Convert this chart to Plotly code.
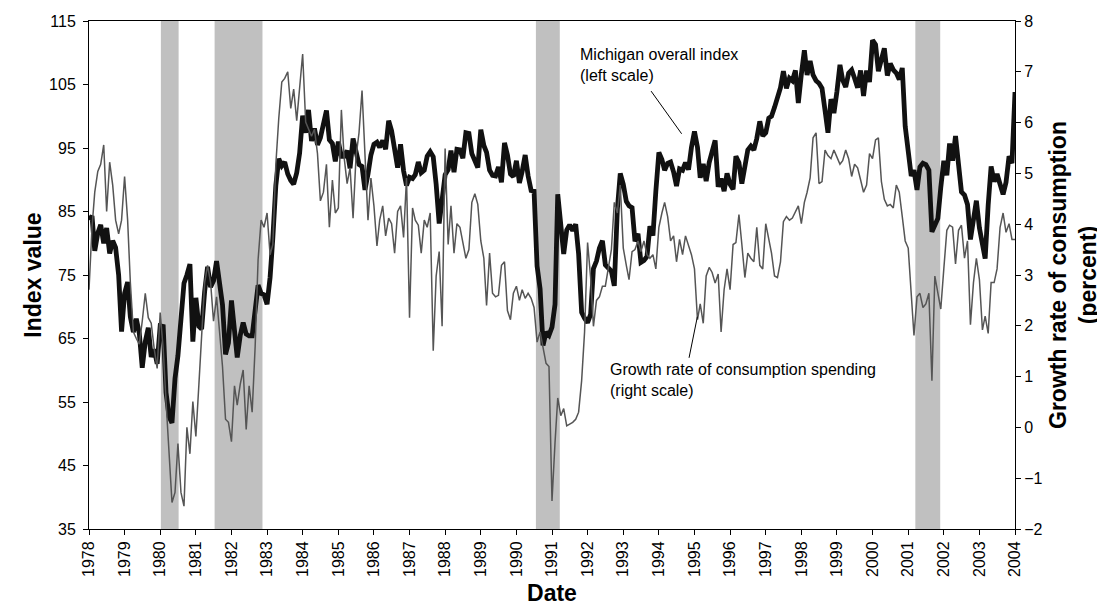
import pandas as pd
import plotly.graph_objects as go

# ---------------- data ----------------
start_month = "1978-01-01"

michigan = [
    # 1978
    83.7, 84.3, 78.8, 81.6, 82.9, 80.0, 82.4, 78.4, 80.4, 79.3, 75.0, 66.1,
    # 1979
    72.1, 73.9, 68.4, 66.0, 68.1, 65.8, 60.4, 64.5, 66.7, 62.1, 63.3, 61.0,
    # 1980
    67.0, 66.9, 56.5, 52.7, 51.7, 58.7, 62.3, 67.3, 73.7, 75.0, 76.7, 64.5,
    # 1981
    71.4, 66.9, 66.5, 72.4, 76.3, 73.1, 74.1, 77.2, 73.1, 70.3, 62.5, 64.3,
    # 1982
    71.0, 66.5, 62.0, 65.5, 67.5, 65.7, 65.4, 65.4, 69.3, 73.4, 72.1, 71.9,
    # 1983
    70.4, 74.6, 80.8, 89.1, 93.3, 92.2, 92.8, 90.9, 89.9, 89.3, 91.1, 94.2,
    # 1984
    100.1, 97.4, 101.0, 96.1, 98.1, 95.5, 96.6, 99.1, 100.9, 96.3, 95.7, 92.9,
    # 1985
    96.0, 93.7, 93.7, 94.6, 91.8, 96.5, 94.0, 92.4, 92.1, 88.4, 90.9, 93.9,
    # 1986
    95.6, 95.9, 95.1, 96.2, 94.8, 99.3, 97.7, 94.9, 91.9, 95.6, 91.4, 89.1,
    # 1987
    90.4, 90.2, 90.8, 92.8, 91.1, 91.5, 93.7, 94.4, 93.6, 89.3, 83.1, 86.8,
    # 1988
    90.8, 91.6, 94.6, 91.2, 94.8, 94.7, 93.4, 97.4, 97.3, 94.1, 93.0, 91.9,
    # 1989
    97.9, 95.4, 94.3, 91.5, 90.7, 90.6, 92.0, 89.6, 95.8, 93.9, 90.9, 90.5,
    # 1990
    93.0, 89.5, 91.3, 93.9, 90.6, 88.3, 88.2, 76.4, 72.8, 63.9, 66.0, 65.5,
    # 1991
    66.8, 70.4, 87.7, 81.8, 78.3, 82.1, 82.9, 82.0, 83.0, 78.3, 69.1, 68.2,
    # 1992
    67.5, 68.8, 76.0, 77.2, 79.2, 80.4, 76.6, 76.1, 75.6, 73.3, 85.3, 91.0,
    # 1993
    89.3, 86.6, 85.9, 85.6, 80.3, 81.5, 77.0, 77.3, 77.9, 82.7, 81.2, 88.2,
    # 1994
    94.3, 93.2, 91.5, 92.6, 92.8, 91.2, 89.0, 91.7, 91.5, 92.7, 91.6, 95.1,
    # 1995
    97.6, 95.1, 90.3, 92.5, 89.8, 92.7, 94.4, 96.2, 88.9, 90.2, 88.2, 91.0,
    # 1996
    89.3, 88.5, 93.7, 92.7, 89.4, 92.4, 94.7, 95.3, 94.7, 96.5, 99.2, 96.9,
    # 1997
    97.4, 99.7, 100.0, 101.4, 103.2, 104.5, 107.1, 104.4, 106.0, 105.6, 107.2, 102.1,
    # 1998
    106.6, 110.4, 106.5, 108.7, 106.5, 105.6, 105.2, 104.4, 100.9, 97.4, 102.7, 100.5,
    # 1999
    103.9, 108.1, 105.7, 104.6, 106.8, 107.3, 106.0, 104.5, 107.2, 103.2, 107.2, 105.4,
    # 2000
    112.0, 111.3, 107.1, 109.2, 110.7, 106.4, 108.3, 107.3, 106.8, 105.8, 107.6, 98.4,
    # 2001
    94.7, 90.6, 91.5, 88.4, 92.0, 92.6, 92.4, 91.5, 81.8, 82.7, 83.9, 88.8,
    # 2002
    93.0, 90.7, 95.7, 93.0, 96.9, 92.4, 88.1, 87.6, 86.1, 80.6, 84.2, 86.7,
    # 2003
    82.4, 79.9, 77.6, 86.0, 92.1, 89.7, 90.9, 89.3, 87.7, 89.6, 93.7, 92.6,
    # 2004
    103.8,
]

consumption_growth = [
    # 1978
    2.71, 3.94, 4.63, 5.04, 5.18, 5.56, 4.25, 5.22, 4.77, 4.08, 3.81, 4.08,
    # 1979
    4.94, 4.08, 2.85, 1.88, 1.75, 1.64, 2.09, 2.64, 2.16, 2.05, 1.54, 1.16,
    # 1980
    2.26, 1.54, 0.51, -0.52, -1.48, -1.28, -0.32, -1.28, -1.55, 0.00, -0.52, 0.51,
    # 1981
    -0.18, 0.85, 1.88, 2.85, 3.19, 2.85, 2.09, 2.57, 1.88, 1.20, 0.16, 0.10,
    # 1982
    -0.28, 0.82, 0.44, 0.85, 1.13, -0.04, 0.82, 0.30, 1.60, 3.30, 4.08, 3.94,
    # 1983
    4.22, 3.40, 3.60, 5.18, 6.08, 6.80, 6.87, 7.00, 6.28, 6.66, 6.04, 6.69,
    # 1984
    7.35, 6.01, 5.87, 5.73, 5.87, 5.39, 4.46, 4.63, 5.18, 3.94, 4.87, 4.22,
    # 1985
    4.32, 6.25, 5.32, 4.80, 5.11, 4.12, 5.32, 5.80, 6.63, 5.46, 4.08, 4.91,
    # 1986
    4.36, 3.57, 4.08, 4.36, 3.77, 4.12, 4.01, 3.43, 4.25, 4.36, 3.74, 4.91,
    # 1987
    2.16, 4.32, 4.08, 3.98, 3.43, 4.08, 3.94, 4.22, 1.51, 2.98, 3.46, 1.99,
    # 1988
    5.49, 3.60, 4.36, 3.43, 4.01, 3.94, 3.67, 3.33, 3.50, 4.43, 4.60, 4.39,
    # 1989
    3.67, 3.33, 2.40, 3.43, 2.64, 2.57, 2.60, 3.19, 3.26, 2.30, 2.12, 2.64,
    # 1990
    2.78, 2.50, 2.71, 2.54, 2.64, 2.54, 2.36, 1.68, 1.88, 1.54, 1.26, 1.20,
    # 1991
    -1.45, -0.30, 0.58, 0.23, 0.37, 0.03, 0.06, 0.10, 0.16, 0.30, 0.92, 1.88,
    # 1992
    3.64, 2.95, 1.99, 2.50, 2.57, 2.78, 2.78, 3.12, 3.50, 4.43, 4.22, 4.77,
    # 1993
    3.53, 3.19, 2.91, 3.46, 3.50, 3.67, 3.46, 3.67, 3.40, 3.33, 3.40, 3.12,
    # 1994
    3.94, 4.22, 4.43, 4.15, 3.67, 3.77, 3.26, 3.70, 3.40, 3.77, 3.60, 3.40,
    # 1995
    3.12, 2.12, 2.43, 2.05, 2.98, 3.15, 3.05, 2.84, 3.02, 1.88, 2.71, 3.12,
    # 1996
    2.71, 3.60, 3.64, 4.19, 3.60, 2.95, 3.43, 3.33, 3.26, 3.94, 3.19, 3.12,
    # 1997
    4.01, 3.70, 3.43, 2.98, 2.95, 3.26, 4.05, 4.15, 4.08, 4.12, 4.25, 4.36,
    # 1998
    4.01, 4.43, 4.63, 4.91, 5.70, 5.80, 4.80, 4.84, 5.46, 5.35, 5.29, 5.46,
    # 1999
    5.32, 5.18, 5.25, 5.46, 5.29, 4.94, 5.18, 5.11, 4.87, 4.63, 4.77, 5.39,
    # 2000
    5.29, 5.66, 5.70, 4.84, 4.49, 4.36, 4.39, 4.32, 4.77, 4.63, 4.15, 3.67,
    # 2001
    3.53, 2.57, 1.81, 2.57, 2.64, 2.36, 2.43, 2.64, 0.92, 2.98, 2.64, 2.33,
    # 2002
    3.12, 3.88, 3.98, 3.94, 3.22, 3.88, 3.98, 3.33, 3.67, 2.02, 2.85, 3.33,
    # 2003
    2.91, 1.92, 2.19, 1.85, 2.85, 2.85, 3.12, 3.94, 4.22, 3.84, 4.01, 3.70,
    # 2004
    3.70,
]

recession_starts = ["1980-01-08", "1981-07-12", "1990-07-20", "2001-03-15"]
recession_ends = ["1980-07-08", "1982-11-15", "1991-03-22", "2001-11-25"]

year_ticks = [f"{y}-01-01" for y in range(1978, 2005)]
year_labels = [str(y) for y in range(1978, 2005)]
left_ticks = [35, 45, 55, 65, 75, 85, 95, 105, 115]
right_ticks = [-2, -1, 0, 1, 2, 3, 4, 5, 6, 7, 8]

dates = pd.date_range(start_month, periods=len(michigan), freq="MS")

# ---------------- figure ----------------
FONT = "Liberation Sans, Arial, sans-serif"
fig = go.Figure()

fig.add_trace(go.Scatter(
    x=dates, y=consumption_growth, yaxis="y2", mode="lines",
    line=dict(color="#555555", width=1.5), name="Growth rate of consumption spending",
    hoverinfo="x+y",
))
fig.add_trace(go.Scatter(
    x=dates, y=michigan, yaxis="y", mode="lines",
    line=dict(color="#111111", width=4.8), name="Michigan overall index",
    hoverinfo="x+y",
))

shapes = []
for s, e in zip(recession_starts, recession_ends):
    shapes.append(dict(type="rect", xref="x", yref="paper", x0=s, x1=e, y0=0, y1=1,
                       fillcolor="#c0c0c0", line=dict(width=0), layer="below"))
# leader lines for annotations
shapes.append(dict(type="line", xref="paper", yref="paper", x0=0.607, y0=0.862,
                   x1=0.640, y1=0.778, line=dict(color="black", width=1)))
shapes.append(dict(type="line", xref="paper", yref="paper", x0=0.657, y0=0.418,
                   x1=0.648, y1=0.337, line=dict(color="black", width=1)))

annotations = [
    dict(xref="paper", yref="paper", x=0.528, y=0.955, xanchor="left", yanchor="top",
         align="left", showarrow=False,
         text="Michigan overall index<br>(left scale)",
         font=dict(family=FONT, size=16, color="black")),
    dict(xref="paper", yref="paper", x=0.561, y=0.334, xanchor="left", yanchor="top",
         align="left", showarrow=False,
         text="Growth rate of consumption spending<br>(right scale)",
         font=dict(family=FONT, size=16, color="black")),
]

fig.update_layout(
    width=1105, height=607,
    margin=dict(l=81, r=98, t=13, b=86),
    paper_bgcolor="white", plot_bgcolor="white",
    showlegend=False,
    font=dict(family=FONT, size=16, color="black"),
    shapes=shapes,
    annotations=annotations,
    xaxis=dict(
        type="date", automargin=False,
        range=[year_ticks[0], year_ticks[-1]],
        tickmode="array", tickvals=year_ticks, ticktext=year_labels,
        tickangle=-90, ticks="outside", ticklen=5, tickcolor="black",
        showline=True, linecolor="black", linewidth=1, mirror=True,
        showgrid=False, zeroline=False,
        tickfont=dict(family=FONT, size=16),
        title=dict(text="<b>Date</b>", font=dict(family=FONT, size=23), standoff=8),
    ),
    yaxis=dict(
        automargin=False,
        range=[35, 115], tickmode="array", tickvals=left_ticks,
        ticks="outside", ticklen=5, tickcolor="black",
        ticklabelstandoff=4,
        showline=True, linecolor="black", linewidth=1,
        showgrid=False, zeroline=False,
        tickfont=dict(family=FONT, size=16),
        title=dict(text="<b>Index value</b>", font=dict(family=FONT, size=23), standoff=1),
    ),
    yaxis2=dict(
        automargin=False,
        range=[-2, 8], tickmode="array", tickvals=right_ticks,
        overlaying="y", side="right",
        ticks="outside", ticklen=5, tickcolor="black",
        showline=True, linecolor="black", linewidth=1,
        showgrid=False, zeroline=False,
        tickfont=dict(family=FONT, size=16),
        title=dict(text="<b>Growth rate of consumption<br>(percent)</b>",
                   font=dict(family=FONT, size=23), standoff=8),
    ),
)

fig.write_html("out.html")
